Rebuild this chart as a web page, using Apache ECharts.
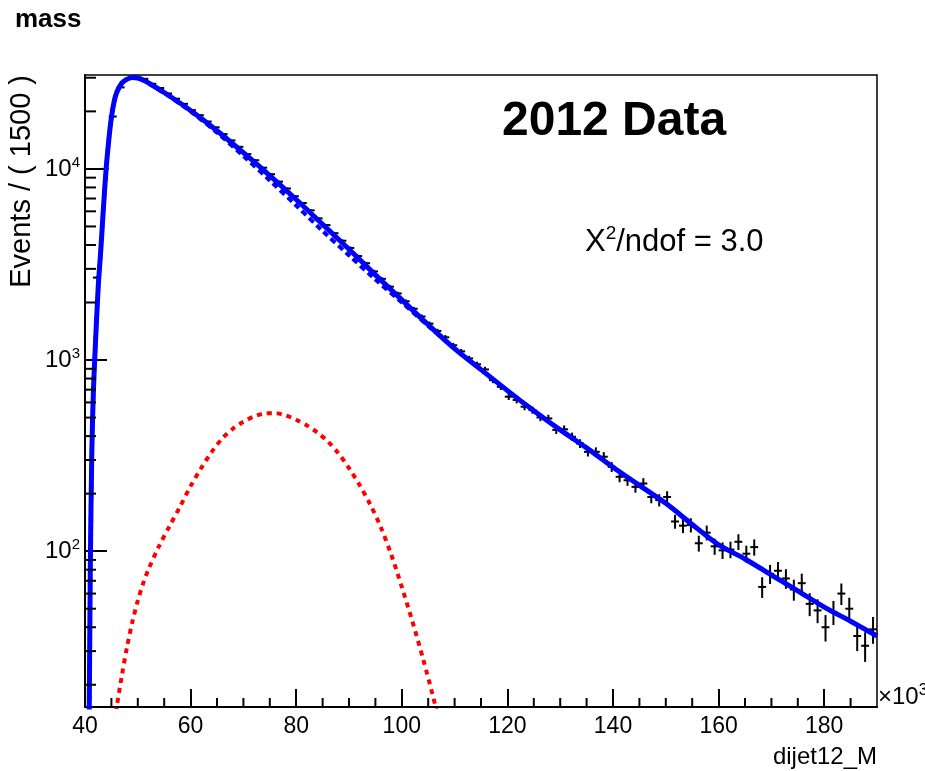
<!DOCTYPE html>
<html>
<head>
<meta charset="utf-8">
<script src="https://cdn.jsdelivr.net/npm/echarts@6/dist/echarts.min.js"></script>
<style>
  html, body { margin: 0; padding: 0; background: #fff; }
  #chart { width: 925px; height: 771px; }
</style>
</head>
<body>
<div id="chart"></div>
<script>
// dijet12_M histogram (x in units of 10^3), 1500-wide bins
const binCenters = [
  42.25, 43.75, 45.25, 46.75, 48.25, 49.75, 51.25, 52.75, 54.25, 55.75,
  57.25, 58.75, 60.25, 61.75, 63.25, 64.75, 66.25, 67.75, 69.25, 70.75,
  72.25, 73.75, 75.25, 76.75, 78.25, 79.75, 81.25, 82.75, 84.25, 85.75,
  87.25, 88.75, 90.25, 91.75, 93.25, 94.75, 96.25, 97.75, 99.25, 100.75,
  102.25, 103.75, 105.25, 106.75, 108.25, 109.75, 111.25, 112.75, 114.25, 115.75,
  117.25, 118.75, 120.25, 121.75, 123.25, 124.75, 126.25, 127.75, 129.25, 130.75,
  132.25, 133.75, 135.25, 136.75, 138.25, 139.75, 141.25, 142.75, 144.25, 145.75,
  147.25, 148.75, 150.25, 151.75, 153.25, 154.75, 156.25, 157.75, 159.25, 160.75,
  162.25, 163.75, 165.25, 166.75, 168.25, 169.75, 171.25, 172.75, 174.25, 175.75,
  177.25, 178.75, 180.25, 181.75, 183.25, 184.75, 186.25, 187.75, 189.25
];
const events = [
  2700, 10000, 18800, 26700, 29700, 30300, 29600, 27900, 26500, 24800,
  23300, 21900, 20300, 19100, 17700, 16500, 15200, 14100, 13050, 11950,
  11100, 10150, 9380, 8580, 7900, 7200, 6630, 6070, 5510, 5080,
  4610, 4210, 3860, 3500, 3210, 2910, 2660, 2420, 2230, 2030,
  1855, 1690, 1550, 1420, 1315, 1195, 1110, 1020, 950, 893,
  785, 724, 643, 618, 570, 547, 501, 495, 431, 434,
  397, 366, 331, 331, 312, 276, 245, 235, 217, 226,
  192, 185, 192, 143, 136, 137, 110, 125, 106, 101,
  102, 112, 97, 105, 65, 76, 79, 72, 63, 68,
  53, 49, 40, 48, 60, 50, 36, 32, 39
];

// Fit curves: total model, background component, signal component
const fitX = [
  40.6, 40.8, 41.0, 41.3, 41.6, 42.0, 42.5, 43.0, 43.5, 44.0,
  44.5, 45.0, 45.5, 46.0, 47, 48, 49, 50, 51, 52,
  55, 60, 65, 70, 75, 80, 85, 90, 95, 100,
  105, 110, 115, 120, 125, 130, 135, 140, 145, 150,
  155, 160, 165, 170, 175, 180, 185, 190
];
const fitTotal = [
  8, 15, 80, 340, 700, 1260, 2400, 3800, 6300, 10000,
  14100, 18600, 22400, 25100, 28200, 29500, 30100, 29900, 29200, 28200,
  25100, 20200, 15850, 12160, 9230, 6920, 5130, 3800, 2790, 2065,
  1530, 1148, 891, 692, 543, 431, 347, 275, 221, 178,
  138, 108, 91, 75, 62, 51, 43, 36
];
const fitBackground = [
  8, 15, 80, 340, 700, 1260, 2400, 3800, 6300, 10000,
  14100, 18600, 22400, 25100, 28180, 29470, 30060, 29840, 29135, 28120,
  24975, 19980, 15485, 11685, 8705, 6433, 4735, 3532, 2640, 2002,
  1509, 1143, 891, 692, 543, 431, 347, 275, 221, 178,
  138, 108, 91, 75, 62, 51, 43, 36
];
const sigX = [
  45, 46, 47, 48, 49, 50, 51, 52, 54, 56, 58, 60, 62, 64, 66, 68, 70, 72, 74, 76,
  78, 80, 82, 84, 86, 88, 90, 92, 94, 96, 98, 100, 102, 104, 106, 108
];
const sigValues = [
  10, 15.3, 22.5, 32, 43, 55, 67.6, 80, 106, 135, 171, 219, 272, 331, 389, 437, 476, 506, 525, 527,
  513, 487, 455, 418, 375, 325, 272, 222, 176, 134, 96, 65, 43, 27.5, 17, 10
];

// Axis ranges and tick values
const X_MIN = 40, X_MAX = 190, X_STEP = 20;
const Y_MIN = 15.3, Y_MAX = 31000;
const xMinorTicks = [45, 50, 55, 65, 70, 75, 85, 90, 95, 105, 110, 115, 125, 130, 135,
  145, 150, 155, 165, 170, 175, 185];
const yMinorTicks = [20, 30, 40, 50, 60, 70, 80, 90, 200, 300, 400, 500, 600, 700, 800, 900,
  2000, 3000, 4000, 5000, 6000, 7000, 8000, 9000, 20000, 30000];
const HALF_BIN = 0.75;

const FONT = "'Liberation Sans', Arial, Helvetica, sans-serif";
const pairs = (xs, ys) => xs.map((x, i) => [x, ys[i]]);

const chart = echarts.init(document.getElementById('chart'));

const option = {
  animation: false,
  backgroundColor: '#fff',
  grid: {
    left: 85, right: 48, top: 75, bottom: 64,
    show: true, borderColor: '#000', borderWidth: 1.5, backgroundColor: 'transparent'
  },
  xAxis: {
    type: 'value', min: X_MIN, max: X_MAX, interval: X_STEP,
    axisLine: { onZero: false, lineStyle: { color: '#000', width: 2 } },
    axisTick: { inside: true, length: 18, lineStyle: { color: '#000', width: 2 } },
    axisLabel: { color: '#000', fontFamily: FONT, fontSize: 23, margin: 8, showMaxLabel: false },
    splitLine: { show: false }
  },
  yAxis: {
    type: 'log', logBase: 10, min: Y_MIN, max: Y_MAX,
    axisLine: { lineStyle: { color: '#000', width: 2 } },
    axisTick: { inside: true, length: 22, lineStyle: { color: '#000', width: 2 } },
    axisLabel: {
      showMinLabel: false, showMaxLabel: false, margin: 5,
      formatter: v => '{b|10}{s|' + Math.round(Math.log10(v)) + '}',
      rich: {
        b: { fontSize: 24, fontFamily: FONT, color: '#000' },
        s: { fontSize: 15, fontFamily: FONT, color: '#000', padding: [0, 0, 12, 0] }
      }
    },
    splitLine: { show: false }
  },
  graphic: [
    { type: 'text', x: 15, y: 20, style: { text: 'mass', font: 'bold 26px ' + FONT, fill: '#000', align: 'left', verticalAlign: 'middle' } },
    { type: 'text', x: 502, y: 122, style: { text: '2012 Data', font: 'bold 48px ' + FONT, fill: '#000', align: 'left', verticalAlign: 'middle' } },
    { type: 'text', x: 585, y: 242, style: {
        text: '{a|X}{s|2}{a|/ndof = 3.0}', align: 'left', verticalAlign: 'middle',
        rich: {
          a: { fontSize: 31, fontFamily: FONT, fill: '#000' },
          s: { fontSize: 19, fontFamily: FONT, fill: '#000', padding: [0, 0, 16, 0] }
        }
    } },
    { type: 'text', x: 22, y: 75, rotation: Math.PI / 2, style: { text: 'Events / ( 1500 )', font: '29px ' + FONT, fill: '#000', align: 'right', verticalAlign: 'middle' } },
    { type: 'text', x: 877, y: 757, style: { text: 'dijet12_M', font: '24px ' + FONT, fill: '#000', align: 'right', verticalAlign: 'middle' } },
    { type: 'text', x: 878, y: 697, style: {
        text: '{a|×10}{s|3}', align: 'left', verticalAlign: 'middle',
        rich: {
          a: { fontSize: 24, fontFamily: FONT, fill: '#000' },
          s: { fontSize: 16, fontFamily: FONT, fill: '#000', padding: [0, 0, 12, 0] }
        }
    } }
  ],
  series: [
    {
      // minor ticks along the x axis
      type: 'custom', name: 'xMinor', silent: true, z: 5,
      data: xMinorTicks.map(v => [v, Y_MIN]),
      encode: { x: 0, y: 1 },
      renderItem: (params, api) => {
        const p = api.coord([api.value(0), Y_MIN]);
        return { type: 'line', shape: { x1: p[0], y1: p[1], x2: p[0], y2: p[1] - 9 }, style: { stroke: '#000', lineWidth: 2 } };
      }
    },
    {
      // minor ticks along the log y axis
      type: 'custom', name: 'yMinor', silent: true, z: 5,
      data: yMinorTicks.map(v => [X_MIN, v]),
      encode: { x: 0, y: 1 },
      renderItem: (params, api) => {
        const p = api.coord([X_MIN, api.value(1)]);
        return { type: 'line', shape: { x1: p[0], y1: p[1], x2: p[0] + 11, y2: p[1] }, style: { stroke: '#000', lineWidth: 2 } };
      }
    },
    {
      // data points with bin-width bars and Poisson error bars
      type: 'custom', name: 'data', z: 2,
      data: pairs(binCenters, events),
      encode: { x: 0, y: 1 },
      renderItem: (params, api) => {
        const x = api.value(0), y = api.value(1);
        const err = Math.sqrt(y);
        const l = api.coord([x - HALF_BIN, y]);
        const r = api.coord([x + HALF_BIN, y]);
        const t = api.coord([x, y + err]);
        const b = api.coord([x, Math.max(y - err, 1)]);
        const st = { stroke: '#000', lineWidth: 2 };
        return {
          type: 'group',
          children: [
            { type: 'line', shape: { x1: l[0], y1: l[1], x2: r[0], y2: r[1] }, style: st },
            { type: 'line', shape: { x1: t[0], y1: t[1], x2: b[0], y2: b[1] }, style: st }
          ]
        };
      }
    },
    {
      type: 'line', name: 'background', z: 3, showSymbol: false, symbol: 'none', smooth: 0.3,
      data: pairs(fitX, fitBackground),
      lineStyle: { color: '#0000ff', width: 4, type: [6, 4] }
    },
    {
      type: 'line', name: 'signal', z: 3, showSymbol: false, symbol: 'none', smooth: 0.3,
      data: pairs(sigX, sigValues),
      lineStyle: { color: '#ff0000', width: 4, type: [5, 5] }
    },
    {
      type: 'line', name: 'total', z: 4, showSymbol: false, symbol: 'none', smooth: 0.3,
      data: pairs(fitX, fitTotal),
      lineStyle: { color: '#0000ff', width: 5 }
    }
  ]
};

chart.setOption(option);
</script>
</body>
</html>
